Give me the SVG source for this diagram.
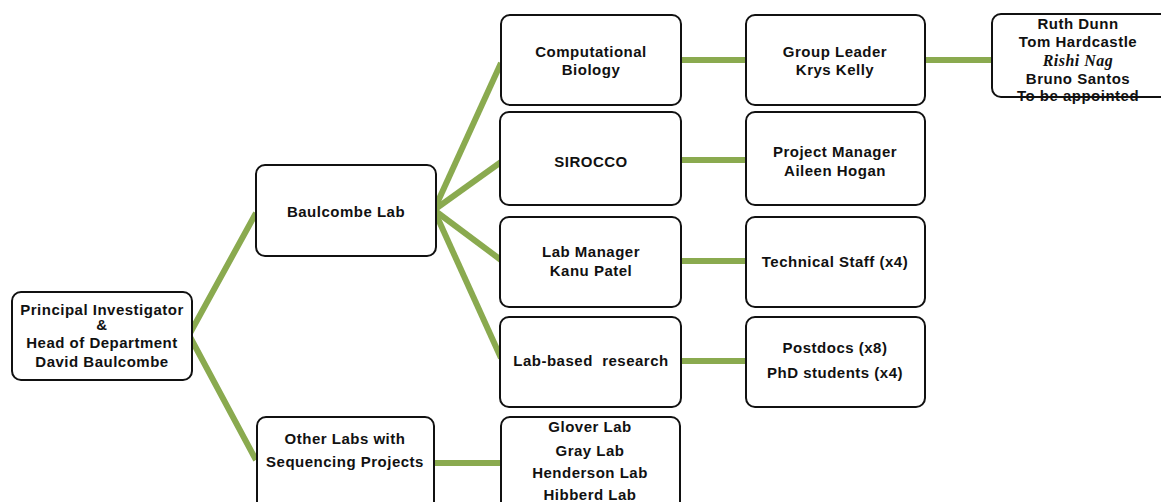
<svg xmlns="http://www.w3.org/2000/svg" width="1161" height="502" viewBox="0 0 1161 502">
<style>
.box{fill:#ffffff;stroke:#111111;stroke-width:2}
.t{font-family:"Liberation Sans",Arial,sans-serif;font-weight:bold;font-size:15px;letter-spacing:0.5px;fill:#111111;text-anchor:middle}
.it{font-family:"Liberation Serif","Times New Roman",serif;font-style:italic;font-weight:bold;font-size:16px;letter-spacing:0.5px}
.c{stroke:#8aaa4f;stroke-width:6;fill:none;stroke-linecap:butt;stroke-linejoin:miter}
</style>
<rect width="1161" height="502" fill="#ffffff"/>
<g id="connectors">
<polyline class="c" points="256,213 189,335 256,460"/>
<line class="c" x1="434" y1="210" x2="501" y2="63"/>
<line class="c" x1="434" y1="210" x2="501" y2="162"/>
<line class="c" x1="434" y1="210" x2="501" y2="260"/>
<line class="c" x1="434" y1="210" x2="501" y2="358"/>
<line class="c" x1="681" y1="60" x2="746" y2="60"/>
<line class="c" x1="925" y1="60" x2="992" y2="60"/>
<line class="c" x1="681" y1="160" x2="746" y2="160"/>
<line class="c" x1="681" y1="261" x2="746" y2="261"/>
<line class="c" x1="681" y1="361" x2="746" y2="361"/>
<line class="c" x1="435" y1="463" x2="501" y2="463"/>
</g>
<g id="pi">
<rect class="box" x="12" y="292" width="180" height="88" rx="9"/>
<text class="t" x="102" y="315">Principal Investigator</text>
<text class="t" x="102" y="330">&amp;</text>
<text class="t" x="102" y="348">Head of Department</text>
<text class="t" x="102" y="367">David Baulcombe</text>
</g>
<g id="baulcombe">
<rect class="box" x="256" y="165" width="180" height="91" rx="9"/>
<text class="t" x="346" y="217">Baulcombe Lab</text>
</g>
<g id="otherlabs">
<rect class="box" x="257" y="417" width="177" height="100" rx="9"/>
<text class="t" x="345" y="444">Other Labs with</text>
<text class="t" x="345" y="467">Sequencing Projects</text>
</g>
<g id="labslist">
<rect class="box" x="501" y="417" width="179" height="100" rx="9"/>
<text class="t" x="590" y="432">Glover Lab</text>
<text class="t" x="590" y="456">Gray Lab</text>
<text class="t" x="590" y="478">Henderson Lab</text>
<text class="t" x="590" y="500">Hibberd Lab</text>
</g>
<g id="compbio">
<rect class="box" x="501" y="15" width="180" height="90" rx="9"/>
<text class="t" x="591" y="57">Computational</text>
<text class="t" x="591" y="75">Biology</text>
</g>
<g id="groupleader">
<rect class="box" x="746" y="15" width="179" height="90" rx="9"/>
<text class="t" x="835" y="57">Group Leader</text>
<text class="t" x="835" y="75">Krys Kelly</text>
</g>
<g id="members">
<rect class="box" x="992" y="14" width="185" height="83" rx="9"/>
<text class="t" x="1078" y="29">Ruth Dunn</text>
<text class="t" x="1078" y="47">Tom Hardcastle</text>
<text class="t it" x="1078" y="66">Rishi Nag</text>
<text class="t" x="1078" y="84">Bruno Santos</text>
<text class="t" x="1078" y="101">To be appointed</text>
</g>
<g id="sirocco">
<rect class="box" x="500" y="112" width="181" height="93" rx="9"/>
<text class="t" x="591" y="167">SIROCCO</text>
</g>
<g id="projectmanager">
<rect class="box" x="746" y="112" width="179" height="93" rx="9"/>
<text class="t" x="835" y="157">Project Manager</text>
<text class="t" x="835" y="176">Aileen Hogan</text>
</g>
<g id="labmanager">
<rect class="box" x="500" y="217" width="181" height="90" rx="9"/>
<text class="t" x="591" y="257">Lab Manager</text>
<text class="t" x="591" y="276">Kanu Patel</text>
</g>
<g id="technical">
<rect class="box" x="746" y="217" width="179" height="90" rx="9"/>
<text class="t" x="835" y="267">Technical Staff (x4)</text>
</g>
<g id="labresearch">
<rect class="box" x="500" y="317" width="181" height="90" rx="9"/>
<text class="t" x="591" y="366" xml:space="preserve">Lab-based  research</text>
</g>
<g id="postdocs">
<rect class="box" x="746" y="317" width="179" height="90" rx="9"/>
<text class="t" x="835" y="353">Postdocs (x8)</text>
<text class="t" x="835" y="378">PhD students (x4)</text>
</g>
</svg>
